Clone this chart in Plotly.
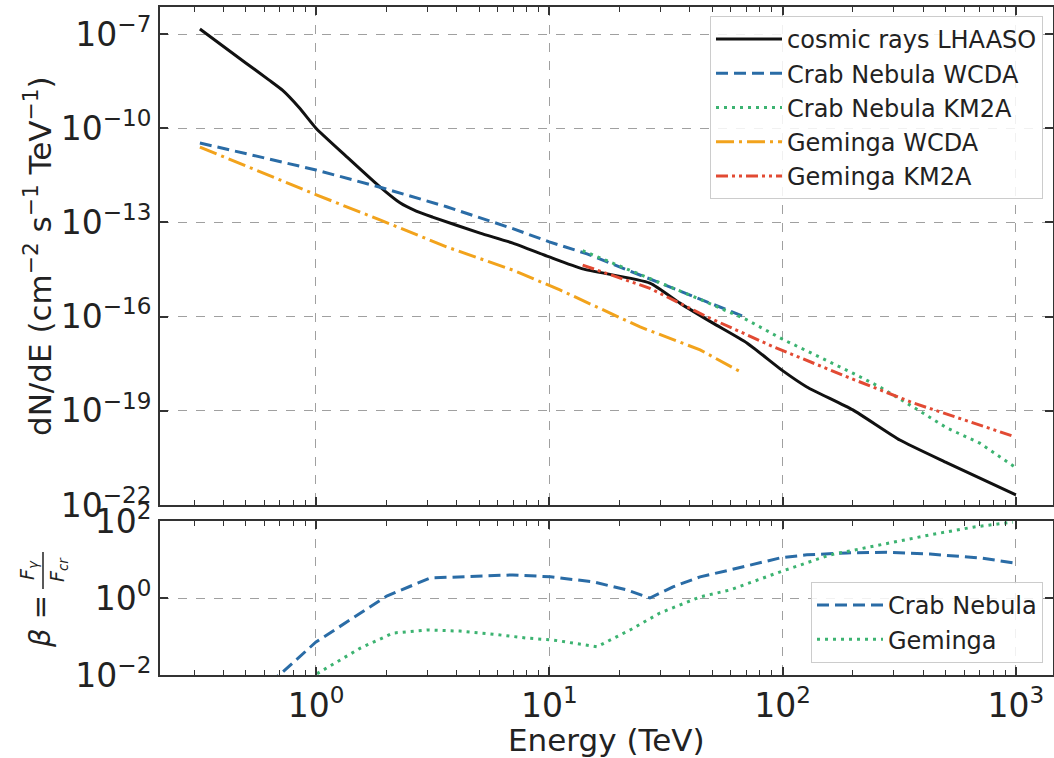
import plotly.graph_objects as go

# ---- spectra (TeV, cm^-2 s^-1 TeV^-1) ----
cr_energy = [0.318, 0.50, 0.63, 0.72, 0.85, 1.0, 1.36, 1.88, 2.29, 2.69, 3.16, 5.05,
             6.98, 10.0, 13.9, 27.0, 36.3, 50.1, 70.3, 100.0, 127.0, 200.0, 318.0,
             507.0, 1000.0]
cr_flux = [1.45e-7, 1.2e-8, 3.4e-9, 1.6e-9, 4.4e-10, 1.0e-10, 1.2e-11, 1.35e-12,
           4.2e-13, 2.29e-13, 1.48e-13, 4.57e-14, 2.19e-14, 7.94e-15, 3.31e-15,
           1.17e-15, 2.69e-16, 6.3e-17, 1.45e-17, 1.9e-18, 5.75e-19, 1.07e-19,
           1.17e-20, 2.19e-21, 2.09e-22]

crab_wcda_energy = [0.318, 1.0, 1.88, 3.63, 6.98, 10.0, 14.5, 26.9, 44.3, 70.3]
crab_wcda_flux = [3.39e-11, 4.68e-12, 1.32e-12, 3.16e-13, 6.31e-14, 2.40e-14,
                  1.0e-14, 1.58e-15, 3.55e-16, 9.12e-17]

crab_km2a_energy = [13.9, 26.9, 44.3, 70.3, 100.0, 200.0, 261.0, 363.0, 507.0, 701.0, 991.0]
crab_km2a_flux = [1.26e-14, 1.66e-15, 3.55e-16, 7.9e-17, 1.9e-17, 1.58e-18,
                  5.75e-19, 1.32e-19, 2.82e-20, 9.33e-21, 1.62e-21]

gem_wcda_energy = [0.318, 1.01, 1.88, 3.63, 6.98, 11.1, 24.5, 44.3, 67.6]
gem_wcda_flux = [2.51e-11, 7.41e-13, 1.20e-13, 1.66e-14, 3.02e-15, 7.08e-16,
                 4.68e-17, 8.71e-18, 1.58e-18]

gem_km2a_energy = [13.9, 27.0, 47.2, 91.2, 189.0, 363.0, 991.0]
gem_km2a_flux = [4.37e-15, 7.94e-16, 1.0e-16, 1.10e-17, 1.20e-18, 1.78e-19, 1.48e-20]

# ---- ratio beta = F_gamma / F_cr ----
crab_ratio_energy = [0.318, 0.72, 1.0, 1.36, 2.01, 3.08, 4.71, 6.98, 10.1, 15.4, 21.5,
                     27.0, 33.9, 44.3, 59.6, 97.7, 127.0, 189.0, 280.0, 429.0, 701.0, 1000.0]
crab_ratio = [2.0e-4, 0.012, 0.072, 0.24, 1.12, 3.31, 3.72, 3.98, 3.55, 2.63, 1.62,
              1.0, 1.95, 3.55, 5.37, 11.0, 13.2, 14.8, 15.5, 13.8, 11.0, 8.0]

gem_ratio_energy = [0.318, 1.04, 1.27, 1.55, 2.14, 3.0, 4.14, 5.74, 8.02, 10.4, 16.0,
                    22.2, 29.8, 44.3, 59.6, 97.7, 160.0, 261.0, 429.0, 655.0, 971.0]
gem_ratio = [1.74e-4, 0.012, 0.0245, 0.050, 0.123, 0.148, 0.138, 0.115, 0.091, 0.081,
             0.054, 0.148, 0.407, 1.07, 1.62, 4.79, 13.2, 24.0, 43.7, 69.2, 93.3]

# ---- axis ticks ----
x_ticks = [1, 10, 100, 1000]
x_ticklabels = ["10<sup>0</sup>", "10<sup>1</sup>", "10<sup>2</sup>", "10<sup>3</sup>"]
flux_ticks = [1e-22, 1e-19, 1e-16, 1e-13, 1e-10, 1e-7]
flux_ticklabels = ["10<sup>−22</sup>", "10<sup>−19</sup>", "10<sup>−16</sup>",
                   "10<sup>−13</sup>", "10<sup>−10</sup>", "10<sup>−7</sup>"]
ratio_ticks = [1e-2, 1, 1e2]
ratio_ticklabels = ["10<sup>−2</sup>", "10<sup>0</sup>", "10<sup>2</sup>"]
x_minor = [m * 10 ** k for k in range(-1, 4) for m in range(2, 10)]

FONT = "DejaVu Sans"
AX = "#333333"
GRID = "#a0a0a0"
TXT = "#222222"

BLACK = "#111111"
BLUE = "#2a6ca6"
GREEN = "#3cb371"
ORANGE = "#f2a31c"
RED = "#e24a33"

# plot area in pixels: x 160..1053, y 7..675
W, H = 1054, 758
L, R, T, B = 160, 1, 7, 83
PW, PH = W - L - R, H - T - B


def px(xp):
    return (xp - L) / PW


def py(yp):
    return (H - B - yp) / PH


fig = go.Figure()

top = dict(xaxis="x", yaxis="y", mode="lines", legend="legend")
fig.add_trace(go.Scatter(x=cr_energy, y=cr_flux, name="cosmic rays LHAASO",
                         line=dict(color=BLACK, width=3, shape="spline", smoothing=0.5),
                         **top))
fig.add_trace(go.Scatter(x=crab_wcda_energy, y=crab_wcda_flux, name="Crab Nebula WCDA",
                         line=dict(color=BLUE, width=3, dash="12px,6px"), **top))
fig.add_trace(go.Scatter(x=crab_km2a_energy, y=crab_km2a_flux, name="Crab Nebula KM2A",
                         line=dict(color=GREEN, width=3, dash="3px,5px"), **top))
fig.add_trace(go.Scatter(x=gem_wcda_energy, y=gem_wcda_flux, name="Geminga WCDA",
                         line=dict(color=ORANGE, width=3, dash="18px,5px,3px,5px"), **top))
fig.add_trace(go.Scatter(x=gem_km2a_energy, y=gem_km2a_flux, name="Geminga KM2A",
                         line=dict(color=RED, width=3, dash="12px,4px,3px,4px,3px,4px"), **top))

bot = dict(xaxis="x2", yaxis="y2", mode="lines", legend="legend2")
fig.add_trace(go.Scatter(x=crab_ratio_energy, y=crab_ratio, name="Crab Nebula",
                         line=dict(color=BLUE, width=3, dash="12px,6px"), **bot))
fig.add_trace(go.Scatter(x=gem_ratio_energy, y=gem_ratio, name="Geminga",
                         line=dict(color=GREEN, width=3, dash="3px,5px"), **bot))

tickfont = dict(family=FONT, size=33, color=TXT)
xrange = [-0.6686, 3.159]

common_axis = dict(
    type="log", automargin=False, tickmode="array", tickfont=tickfont,
    ticks="inside", ticklen=8, tickwidth=1.5, tickcolor=AX,
    showline=True, linecolor=AX, linewidth=2, mirror="allticks",
    showgrid=True, gridcolor=GRID, gridwidth=1, griddash="dash",
    zeroline=False,
)


def xaxis_cfg(anchor, labels):
    return dict(
        range=xrange, anchor=anchor, domain=[0, 1],
        tickvals=x_ticks, ticktext=x_ticklabels, showticklabels=labels,
        minor=dict(tickmode="array", tickvals=x_minor, ticks="inside",
                   ticklen=5, tickwidth=1.2, tickcolor=AX, showgrid=False),
        **common_axis,
    )


def yaxis_cfg(anchor, domain, rng, vals, text):
    return dict(range=rng, anchor=anchor, domain=domain,
                tickvals=vals, ticktext=text, **common_axis)


legend_style = dict(
    bgcolor="rgba(255,255,255,0.85)", bordercolor="#cccccc", borderwidth=1,
    font=dict(family=FONT, size=24, color=TXT),
    xanchor="right", itemwidth=66,
)

fig.update_layout(
    width=W, height=H,
    margin=dict(l=L, r=R, t=T, b=B, autoexpand=False),
    paper_bgcolor="white", plot_bgcolor="white",
    font=dict(family=FONT, color=TXT),
    xaxis=xaxis_cfg("y", False),
    xaxis2=xaxis_cfg("y2", True),
    yaxis=yaxis_cfg("x", [py(505), 1.0], [-22, -6.14], flux_ticks, flux_ticklabels),
    yaxis2=yaxis_cfg("x2", [0.0, py(521)], [-2, 2], ratio_ticks, ratio_ticklabels),
    legend=dict(x=px(1043), y=py(16), yanchor="top", **legend_style),
    legend2=dict(x=px(1043), y=py(663), yanchor="bottom", **legend_style),
    showlegend=True,
)

centered = dict(xref="paper", yref="paper", xanchor="center", yanchor="middle",
                showarrow=False)
title_font = dict(family=FONT, size=31, color=TXT)
fig.add_annotation(text="dN/dE (cm<sup>−2</sup> s<sup>−1</sup> TeV<sup>−1</sup>)",
                   x=px(38), y=py(256), textangle=-90, font=title_font, **centered)
fig.add_annotation(text="Energy (TeV)", x=0.5, y=py(740), font=title_font, **centered)

# beta = F_gamma / F_cr written as a rotated fraction
fig.add_annotation(text="<i>β</i> =", x=px(40), y=py(622), textangle=-90,
                   font=dict(family=FONT, size=29, color=TXT), **centered)
frac_font = dict(family=FONT, size=19, color=TXT)
fig.add_annotation(text="<i>F</i><sub><i>γ</i></sub>", x=px(28), y=py(570),
                   textangle=-90, font=frac_font, **centered)
fig.add_annotation(text="<i>F</i><sub><i>cr</i></sub>", x=px(58), y=py(570),
                   textangle=-90, font=frac_font, **centered)
fig.add_shape(type="line", xref="paper", yref="paper", x0=px(43), x1=px(43),
              y0=py(552), y1=py(589), line=dict(color=TXT, width=1.5))

fig.write_html("out.html")
